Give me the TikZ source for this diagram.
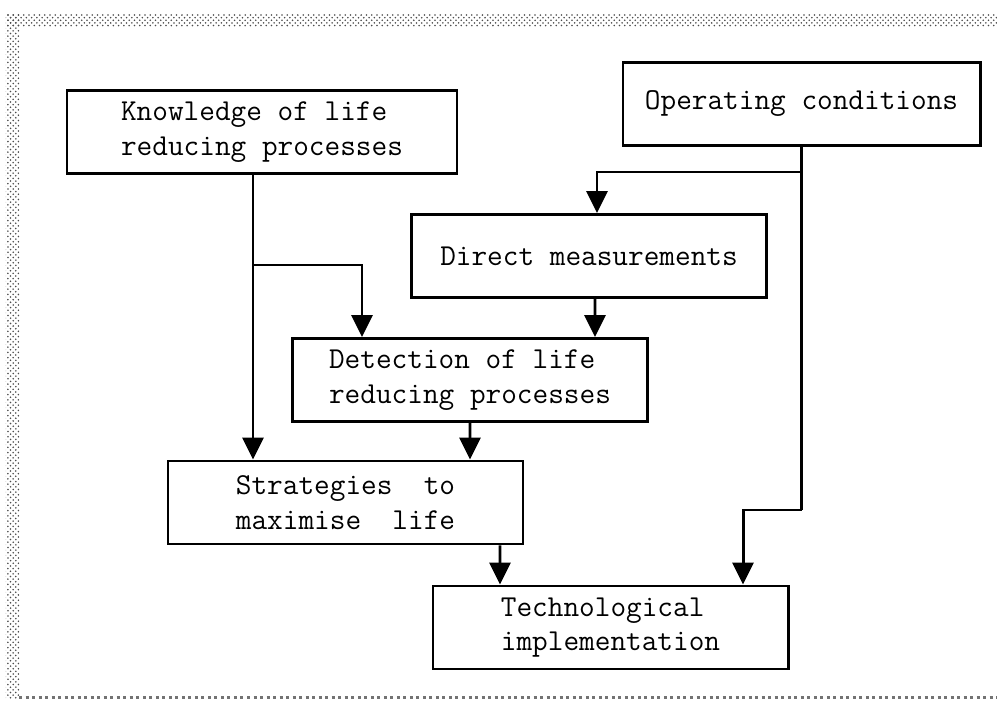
\documentclass[tikz,border=0pt]{standalone}
\usepackage{tikz}
\usetikzlibrary{arrows.meta,positioning,calc,patterns}

\begin{document}
\begin{tikzpicture}[
    lfbox/.style={draw=black,line width=1.7pt,align=left,inner sep=4pt,
        minimum width=7.1cm,minimum height=1.66cm,
        font=\ttfamily\fontsize{17.3}{19.8}\selectfont},
    lfarrow/.style={-{Triangle[length=4.4mm,width=4.2mm]},draw=black,line width=1.7pt},
    lfline/.style={draw=black,line width=1.7pt}
]
\useasboundingbox (0,0) rectangle (19.94,-14.06);
% frame
\fill[pattern=crosshatch dots,pattern color=black!70] (0.12,-0.30) rectangle (19.94,-0.54);
\fill[pattern=crosshatch dots,pattern color=black!70] (0.12,-0.30) rectangle (0.38,-13.97);
\draw[black!55,dotted,line width=0.06cm] (0.38,-13.94) -- (19.94,-13.94);

\node[lfbox,minimum width=7.8cm] (know) at (5.24,-2.64)
    {Knowledge of life\\reducing processes};
\node[lfbox,minimum width=7.14cm] (oper) at (16.03,-2.08)
    {Operating conditions};
\node[lfbox] (direct) at (11.78,-5.12) {Direct measurements};
\node[lfbox] (detect) at (9.40,-7.60)
    {Detection of life\\reducing processes};
\node[lfbox] (strat) at (6.91,-10.05)
    {Strategies\ \ to\\maximise\ \ life};
\node[lfbox] (tech) at (12.21,-12.55)
    {Technological\\implementation};

\coordinate (kjoin) at ([xshift=-0.18cm]know.south |- 0,-5.30);
\coordinate (ojoin) at (oper.south |- 0,-3.44);
\coordinate (obend) at (oper.south |- 0,-10.20);

\draw[lfarrow] ([xshift=-0.18cm]know.south) -- (kjoin) -- (kjoin |- strat.north);
\draw[lfarrow] (kjoin) -| ([xshift=-2.16cm]detect.north);
\draw[lfline] (oper.south) -- (obend);
\draw[lfarrow] (ojoin) -| ([xshift=0.16cm]direct.north);
\draw[lfarrow] (obend) -| ([xshift=2.65cm]tech.north);
\draw[lfarrow] ([xshift=0.12cm]direct.south) -- ([xshift=2.50cm]detect.north);
\draw[lfarrow] (detect.south) -- ([xshift=2.49cm]strat.north);
\draw[lfarrow] ([xshift=3.09cm]strat.south) -- ([xshift=-2.21cm]tech.north);
\end{tikzpicture}
\end{document}
